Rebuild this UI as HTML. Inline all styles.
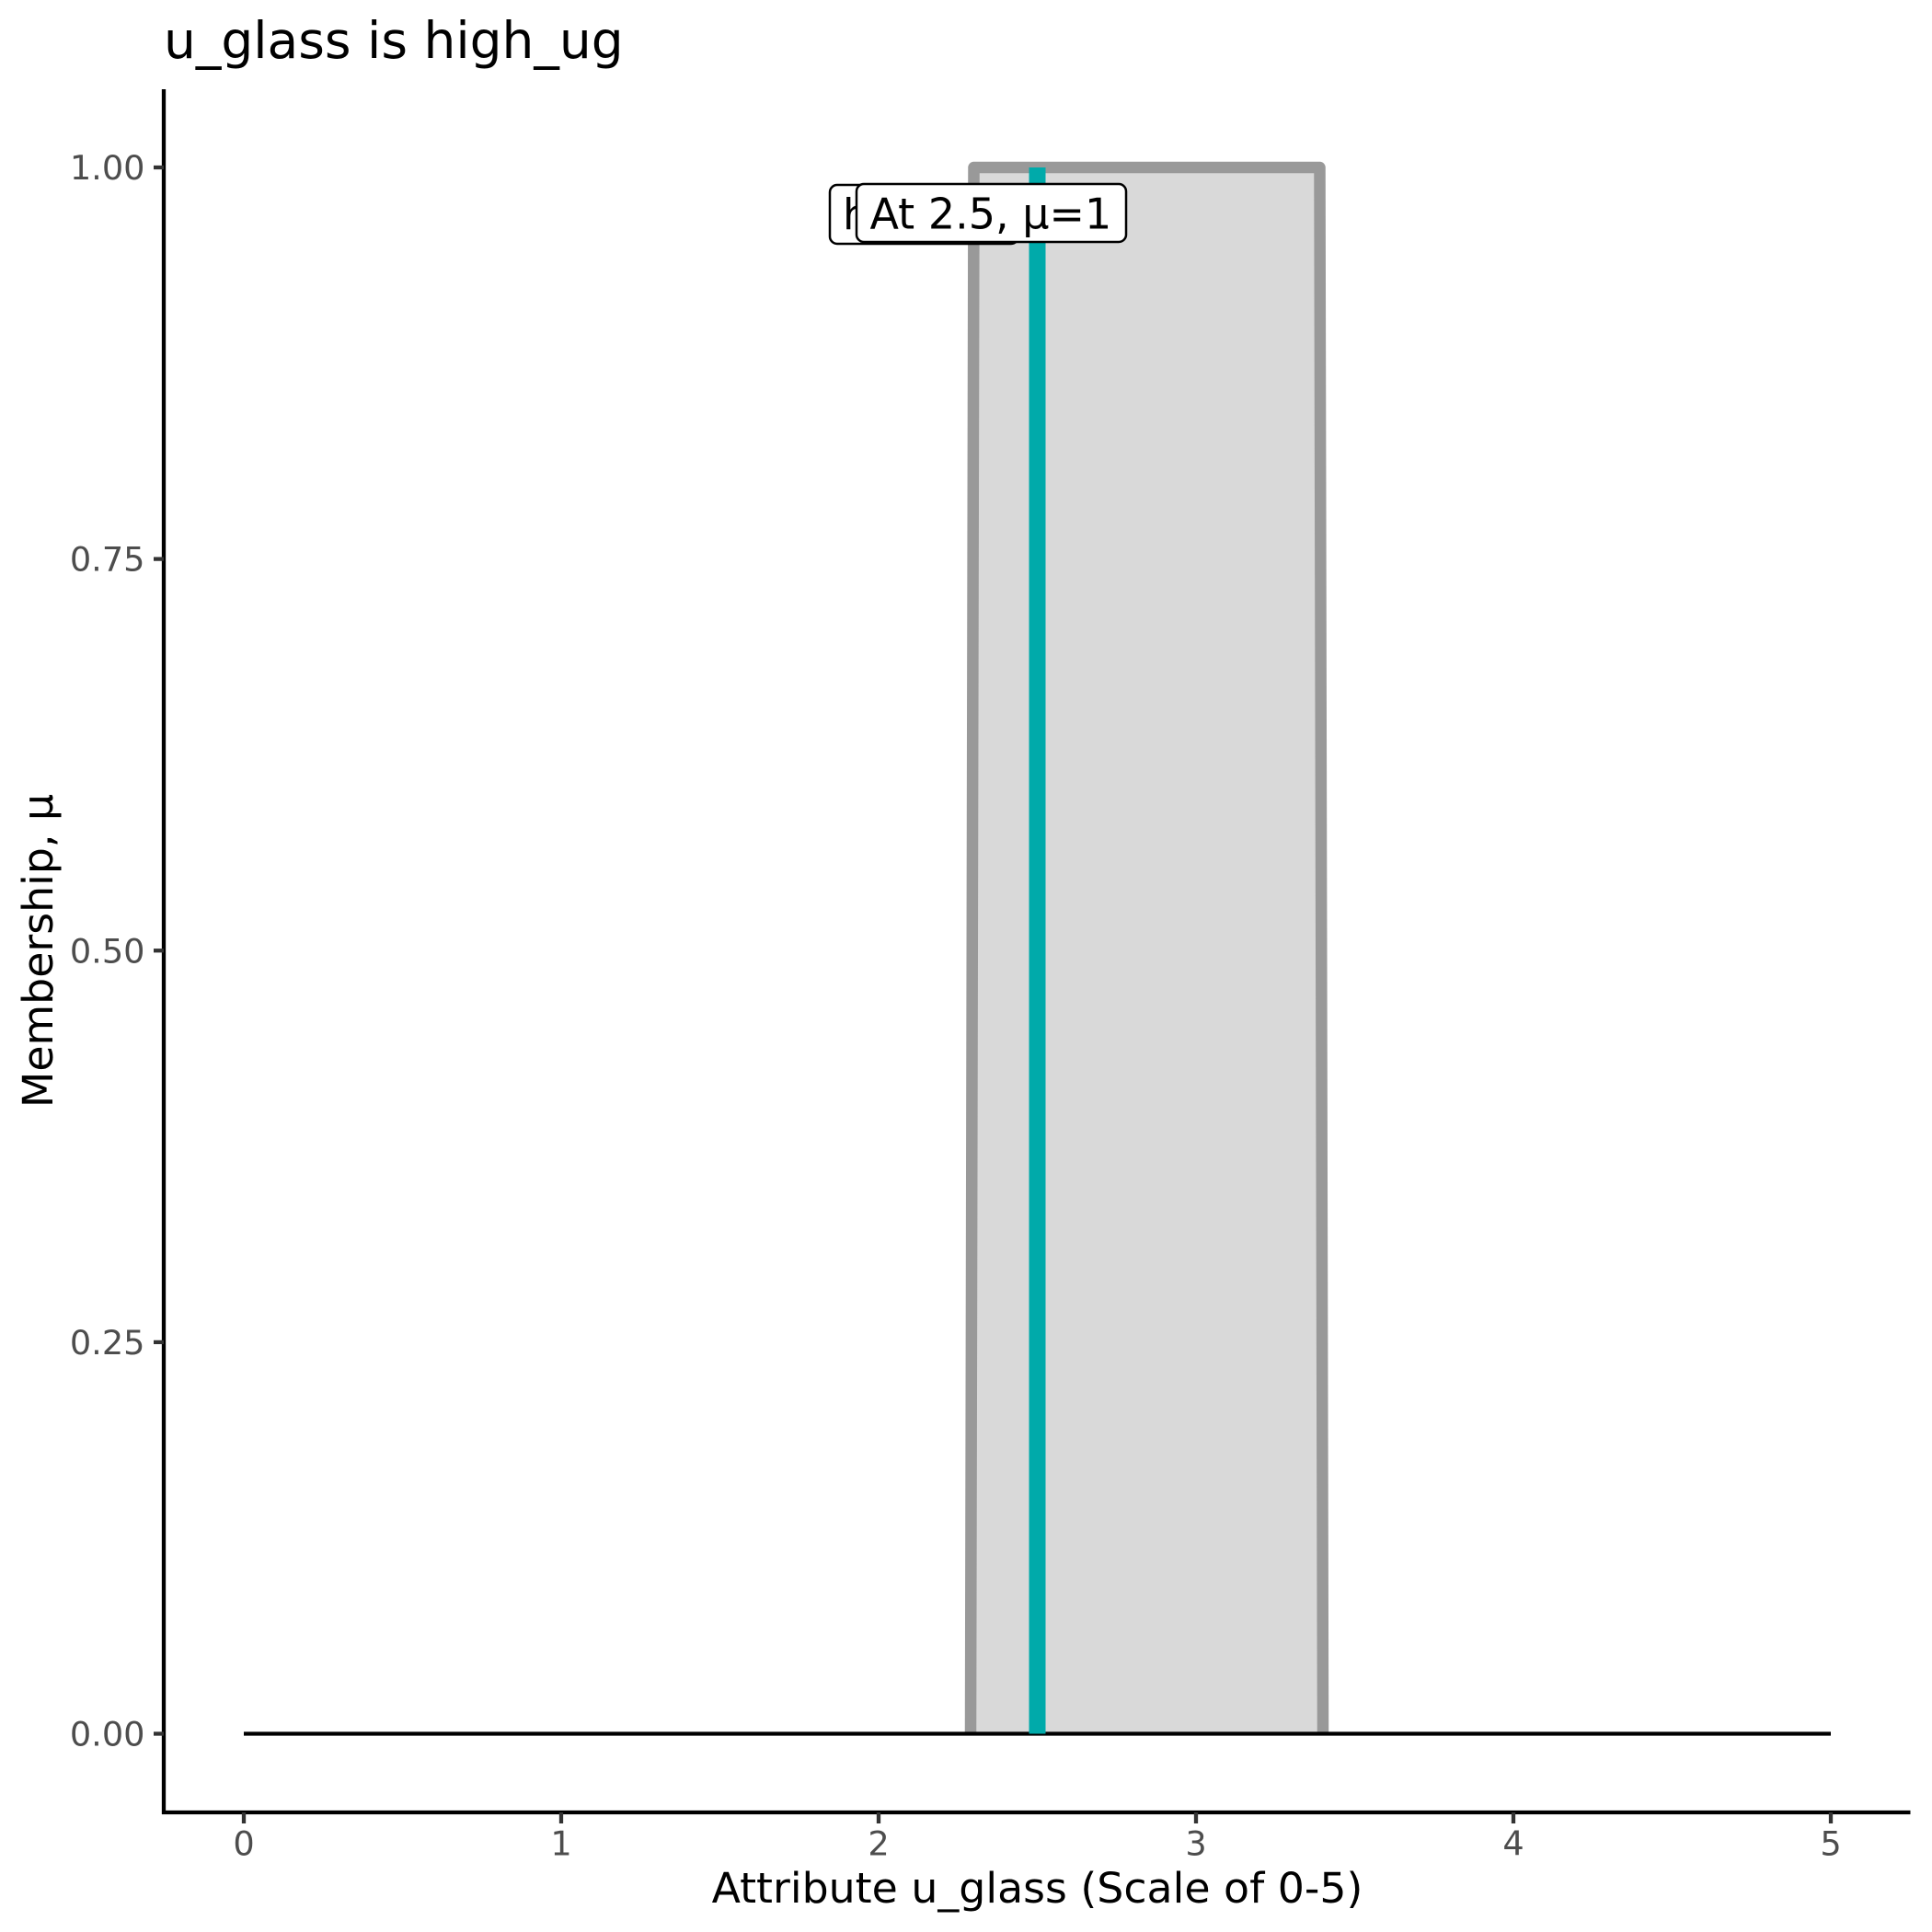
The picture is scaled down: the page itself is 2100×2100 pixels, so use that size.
<!DOCTYPE html>
<html>
<head>
<meta charset="utf-8">
<style>
  html, body { margin: 0; padding: 0; background: #ffffff; }
  svg { display: block; }
  text { font-family: "DejaVu Sans", "Liberation Sans", sans-serif; }
</style>
</head>
<body>
<svg width="2100" height="2100" viewBox="0 0 2100 2100" xmlns="http://www.w3.org/2000/svg">
  <rect x="0" y="0" width="2100" height="2100" fill="#ffffff"/>

  <!-- Title -->
  <text x="178" y="63" font-size="55" fill="#000000">u_glass is high_ug</text>

  <!-- Membership shape -->
  <polygon points="1055,1884.5 1058.5,182 1434.5,182 1438,1884.5" fill="#D9D9D9" stroke="none"/>
  <polyline points="1055,1884.5 1058.5,182 1434.5,182 1438,1884.5" fill="none" stroke="#999999" stroke-width="12.5" stroke-linejoin="round" stroke-linecap="butt"/>

  <!-- zero line -->
  <line x1="265" y1="1884.5" x2="1990" y2="1884.5" stroke="#000000" stroke-width="4.3"/>

  <!-- teal vertical line at 2.5 -->
  <line x1="1127.5" y1="182" x2="1127.5" y2="1884.5" stroke="#00AAAA" stroke-width="18" stroke-linecap="butt"/>

  <!-- Labels -->
  <rect x="902" y="201" width="205" height="64" rx="8" ry="8" fill="#ffffff" stroke="#000000" stroke-width="2.5"/>
  <text x="916" y="249.5" font-size="46" fill="#000000">high_ug</text>

  <rect x="931" y="200" width="293" height="63" rx="8" ry="8" fill="#ffffff" stroke="#000000" stroke-width="2.5"/>
  <text x="945.5" y="248.5" font-size="46" fill="#000000">At 2.5, μ=1</text>

  <!-- Axes -->
  <line x1="178" y1="97" x2="178" y2="1972" stroke="#000000" stroke-width="4.3"/>
  <line x1="176" y1="1970" x2="2076.5" y2="1970" stroke="#000000" stroke-width="4.3"/>

  <!-- Y ticks -->
  <g stroke="#333333" stroke-width="4.3">
    <line x1="167" y1="182" x2="178" y2="182"/>
    <line x1="167" y1="607.6" x2="178" y2="607.6"/>
    <line x1="167" y1="1033.25" x2="178" y2="1033.25"/>
    <line x1="167" y1="1458.9" x2="178" y2="1458.9"/>
    <line x1="167" y1="1884.5" x2="178" y2="1884.5"/>
  </g>
  <g font-size="36.7" fill="#4D4D4D" text-anchor="end">
    <text x="157.5" y="195">1.00</text>
    <text x="157.5" y="620.6">0.75</text>
    <text x="157.5" y="1046.25">0.50</text>
    <text x="157.5" y="1471.9">0.25</text>
    <text x="157.5" y="1897.5">0.00</text>
  </g>

  <!-- X ticks -->
  <g stroke="#333333" stroke-width="4.3">
    <line x1="265" y1="1970" x2="265" y2="1982"/>
    <line x1="610" y1="1970" x2="610" y2="1982"/>
    <line x1="955" y1="1970" x2="955" y2="1982"/>
    <line x1="1300" y1="1970" x2="1300" y2="1982"/>
    <line x1="1645" y1="1970" x2="1645" y2="1982"/>
    <line x1="1990" y1="1970" x2="1990" y2="1982"/>
  </g>
  <g font-size="36.7" fill="#4D4D4D" text-anchor="middle">
    <text x="265" y="2016.5">0</text>
    <text x="610" y="2016.5">1</text>
    <text x="955" y="2016.5">2</text>
    <text x="1300" y="2016.5">3</text>
    <text x="1645" y="2016.5">4</text>
    <text x="1990" y="2016.5">5</text>
  </g>

  <!-- Axis titles -->
  <text x="1127.5" y="2068" font-size="45.8" fill="#000000" text-anchor="middle">Attribute u_glass (Scale of 0-5)</text>
  <text transform="translate(57,1033.5) rotate(-90)" x="0" y="0" font-size="45.8" fill="#000000" text-anchor="middle">Membership, μ</text>
</svg>
</body>
</html>
